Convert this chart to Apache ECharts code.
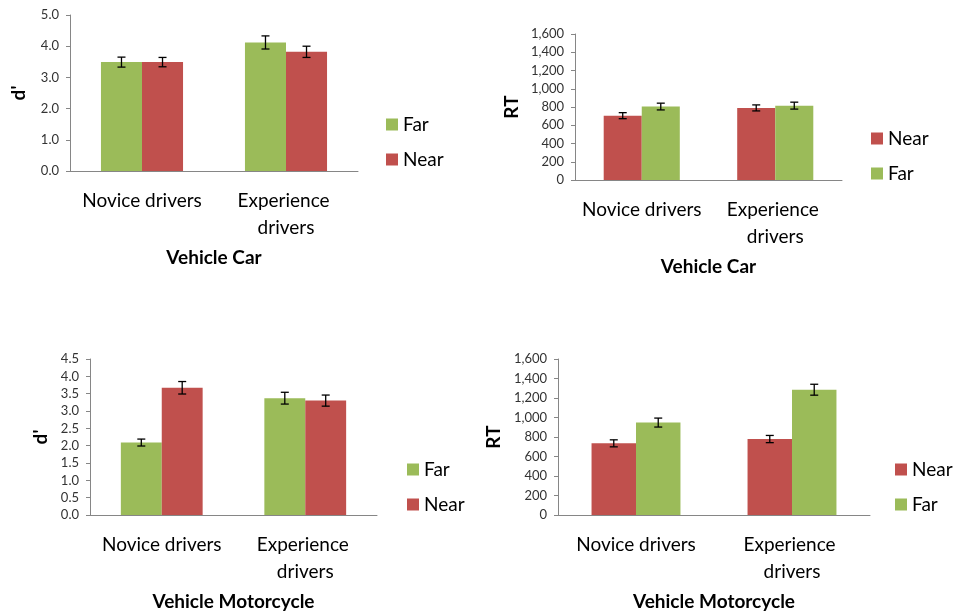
<!DOCTYPE html>
<html>
<head>
<meta charset="utf-8">
<script src="https://cdn.jsdelivr.net/npm/echarts@6/dist/echarts.min.js"></script>
<style>
  html, body { margin: 0; padding: 0; background: #fff; }
  #chart { width: 957px; height: 614px; }
</style>
</head>
<body>
<div id="chart"></div>
<script>
// Driver groups on the x axis
const categories = ['Novice drivers', 'Experience drivers'];

// Sensitivity (d') and reaction time (RT), car condition
const carDFar = [3.49, 4.12];
const carDFarErr = [0.16, 0.21];
const carDNear = [3.49, 3.82];
const carDNearErr = [0.15, 0.18];

const carRTNear = [705, 790];
const carRTNearErr = [33, 33];
const carRTFar = [805, 815];
const carRTFarErr = [37, 38];

// Sensitivity (d') and reaction time (RT), motorcycle condition
const motoDFar = [2.09, 3.37];
const motoDFarErr = [0.10, 0.17];
const motoDNear = [3.67, 3.30];
const motoDNearErr = [0.18, 0.16];

const motoRTNear = [735, 779];
const motoRTNearErr = [36, 37];
const motoRTFar = [948, 1285];
const motoRTFarErr = [46, 56];

// Axis tick settings
const dTicksCar = { min: 0, max: 5, interval: 1 };
const dTicksMoto = { min: 0, max: 4.5, interval: 0.5 };
const rtTicks = { min: 0, max: 1600, interval: 200 };

const GREEN = '#9BBB59';
const RED = '#C0504D';
const BAR_PCT = 0.285;
const FONT = 'Lato, "Open Sans", sans-serif';

const chart = echarts.init(document.getElementById('chart'));

const grids = [
  { left: 70, top: 15, width: 288, height: 156 },
  { left: 575, top: 34, width: 267, height: 146 },
  { left: 90, top: 359, width: 287, height: 156 },
  { left: 558, top: 359, width: 312, height: 156 }
];

const panels = [
  { title: 'Vehicle Car', yName: "d'", ticks: dTicksCar, dec: 1, nameGap: 42,
    series: [['Far', GREEN, carDFar, carDFarErr], ['Near', RED, carDNear, carDNearErr]],
    legend: { left: 386, top: 115 } },
  { title: 'Vehicle Car', yName: 'RT', ticks: rtTicks, dec: 0, nameGap: 54,
    series: [['Near', RED, carRTNear, carRTNearErr], ['Far', GREEN, carRTFar, carRTFarErr]],
    legend: { left: 871, top: 129 } },
  { title: 'Vehicle Motorcycle', yName: "d'", ticks: dTicksMoto, dec: 1, nameGap: 40,
    series: [['Far', GREEN, motoDFar, motoDFarErr], ['Near', RED, motoDNear, motoDNearErr]],
    legend: { left: 407, top: 460 } },
  { title: 'Vehicle Motorcycle', yName: 'RT', ticks: rtTicks, dec: 0, nameGap: 55,
    series: [['Near', RED, motoRTNear, motoRTNearErr], ['Far', GREEN, motoRTFar, motoRTFarErr]],
    legend: { left: 895, top: 460 } }
];

function errorBarRenderer(side) {
  return function (params, api) {
    const x = api.value(0), v = api.value(1), e = api.value(2);
    const c = api.coord([x, v]);
    const band = api.size([1, 0])[0];
    const cx = c[0] + side * band * BAR_PCT / 2;
    const top = api.coord([x, v + e])[1];
    const bot = api.coord([x, v - e])[1];
    const cap = 4;
    const style = { stroke: '#000', lineWidth: 1.3 };
    return {
      type: 'group',
      children: [
        { type: 'line', shape: { x1: cx, y1: top, x2: cx, y2: bot }, style },
        { type: 'line', shape: { x1: cx - cap, y1: top, x2: cx + cap, y2: top }, style },
        { type: 'line', shape: { x1: cx - cap, y1: bot, x2: cx + cap, y2: bot }, style }
      ]
    };
  };
}

const xAxes = [], yAxes = [], series = [], legends = [];

panels.forEach((p, i) => {
  xAxes.push({
    type: 'category', gridIndex: i, data: categories,
    name: p.title, nameLocation: 'middle', nameGap: 77,
    nameTextStyle: { fontFamily: FONT, fontSize: 19, fontWeight: 'bold', color: '#000' },
    axisLine: { lineStyle: { color: '#868686', width: 1 } },
    axisTick: { show: false },
    axisLabel: {
      fontFamily: FONT, fontSize: 19, color: '#000', margin: 16, interval: 0,
      width: 130, overflow: 'break', lineHeight: 27
    }
  });
  yAxes.push({
    type: 'value', gridIndex: i,
    min: p.ticks.min, max: p.ticks.max, interval: p.ticks.interval,
    name: p.yName, nameLocation: 'middle', nameGap: p.nameGap, nameRotate: 90,
    nameTextStyle: { fontFamily: FONT, fontSize: 19, fontWeight: 'bold', color: '#000' },
    axisLine: { show: true, lineStyle: { color: '#868686', width: 1 } },
    axisTick: { show: true, length: 4, lineStyle: { color: '#868686' } },
    splitLine: { show: false },
    axisLabel: {
      fontFamily: FONT, fontSize: 13, color: '#333', margin: 11,
      formatter: v => p.dec ? v.toFixed(p.dec) : v.toLocaleString('en-US')
    }
  });
  p.series.forEach((s) => {
    series.push({
      type: 'bar', name: s[0], xAxisIndex: i, yAxisIndex: i,
      data: s[2], barWidth: (BAR_PCT * 100) + '%', barGap: '0%',
      itemStyle: { color: s[1] }, animation: false
    });
  });
  p.series.forEach((s, k) => {
    series.push({
      type: 'custom', name: s[0] + ' error', xAxisIndex: i, yAxisIndex: i,
      data: s[2].map((v, j) => [j, v, s[3][j]]),
      renderItem: errorBarRenderer(k === 0 ? -1 : 1),
      z: 5, animation: false, silent: true
    });
  });
  legends.push({
    data: p.series.map(s => s[0]),
    orient: 'vertical', left: p.legend.left, top: p.legend.top, padding: 0,
    icon: 'rect', itemWidth: 12, itemHeight: 12, itemGap: 16,
    textStyle: { fontFamily: FONT, fontSize: 19, color: '#000' },
    selectedMode: false
  });
});

chart.setOption({
  animation: false,
  backgroundColor: '#fff',
  grid: grids,
  xAxis: xAxes,
  yAxis: yAxes,
  legend: legends,
  series: series
});
</script>
</body>
</html>
